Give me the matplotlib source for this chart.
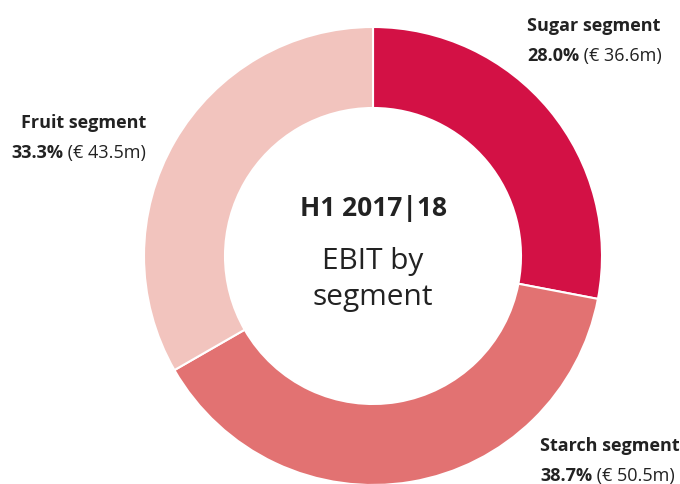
import matplotlib.pyplot as plt

segments = ['Sugar segment', 'Starch segment', 'Fruit segment']
shares = [28.0, 38.7, 33.3]
ebit = [36.6, 50.5, 43.5]
colors = ['#D31145', '#E27272', '#F2C4BE']

plt.rcParams['font.family'] = ['Open Sans', 'DejaVu Sans']
txt = '#222222'

fig = plt.figure(figsize=(6.8, 4.84), dpi=100)
ax = fig.add_axes([0, 0, 1, 1])
ax.pie(shares, colors=colors, startangle=90, counterclock=False,
       center=(373, 228), radius=229,
       wedgeprops=dict(width=81, edgecolor='white', linewidth=1.5))
ax.set_xlim(0, 680)
ax.set_ylim(0, 484)
ax.set_aspect('equal')
ax.axis('off')

# label positions (x, y of first line, alignment)
spots = [(527, 458, 'left'), (540, 38, 'left'), (146, 361, 'right')]

fig.canvas.draw()
r = fig.canvas.get_renderer()
for name, pct, val, (x, y, ha) in zip(segments, shares, ebit, spots):
    ax.text(x, y, name, fontsize=13, fontweight='bold', color=txt,
            ha=ha, va='center')
    rest = ' (€ %.1fm)' % val
    p = ax.text(x, y - 30, '%.1f%%' % pct, fontsize=13, fontweight='bold',
                color=txt, ha='left', va='center')
    q = ax.text(x, y - 30, rest, fontsize=13, color=txt, ha='left', va='center')
    wp = p.get_window_extent(r).width
    wq = q.get_window_extent(r).width
    if ha == 'right':
        p.set_x(x - wp - wq)
        q.set_x(x - wq)
    else:
        q.set_x(x + wp)

ax.text(373, 276, 'H1 2017|18', fontsize=19, fontweight='bold', color=txt,
        ha='center', va='center')
ax.text(373, 222, 'EBIT by', fontsize=21.5, color=txt, ha='center', va='center')
ax.text(373, 186, 'segment', fontsize=21.5, color=txt, ha='center', va='center')

fig.savefig('out.png', dpi=100)
